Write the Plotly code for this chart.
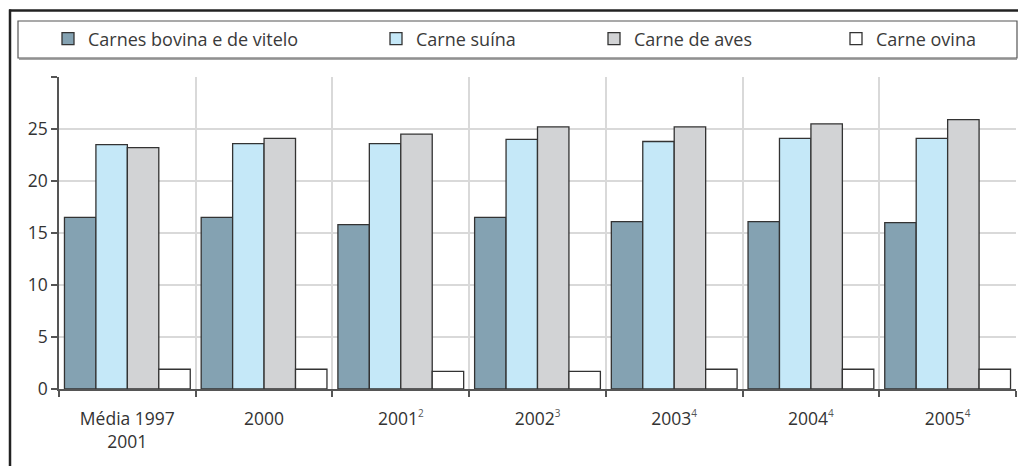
import plotly.graph_objects as go

def sup(s):
    return f"<sup><span style='font-size:10px;color:#555555'>{s}</span></sup>"

categories = ["Média 1997<br>2001", "2000", "2001" + sup("2"), "2002" + sup("3"),
              "2003" + sup("4"), "2004" + sup("4"), "2005" + sup("4")]
series_names = ["Carnes bovina e de vitelo", "Carne suína", "Carne de aves", "Carne ovina"]
bovina = [16.5, 16.5, 15.8, 16.5, 16.1, 16.1, 16.0]
suina = [23.5, 23.6, 23.6, 24.0, 23.8, 24.1, 24.1]
aves = [23.2, 24.1, 24.5, 25.2, 25.2, 25.5, 25.9]
ovina = [1.9, 1.9, 1.7, 1.7, 1.9, 1.9, 1.9]
y_ticks = [0, 5, 10, 15, 20, 25, 30]
y_ticktext = ["0", "5", "10", "15", "20", "25", ""]

colors = ["#84A2B2", "#C5E8F8", "#D2D3D5", "#FFFFFF"]
values = [bovina, suina, aves, ovina]

W, H = 1018, 466
ml, mr, mt, mb = 59, 2, 77, 77
pw, ph = W - ml - mr, H - mt - mb

def px_x(p):
    return (p - ml) / pw

def px_y(p):
    return (H - mb - p) / ph

legend_left_px = [48, 376, 594, 836]
font_family = "Open Sans, Noto Sans, DejaVu Sans, sans-serif"

fig = go.Figure()
for i, (name, vals, col) in enumerate(zip(series_names, values, colors)):
    lg = "legend" if i == 0 else f"legend{i+1}"
    fig.add_trace(go.Bar(
        x=categories, y=vals, name=name,
        marker=dict(color=col, line=dict(color="#333333", width=1.3)),
        legend=lg,
    ))

layout_legends = {}
for i, lp in enumerate(legend_left_px):
    key = "legend" if i == 0 else f"legend{i+1}"
    layout_legends[key] = dict(
        x=px_x(lp), y=px_y(39), xanchor="left", yanchor="middle",
        orientation="h", bgcolor="rgba(0,0,0,0)", borderwidth=0,
        font=dict(family=font_family, size=18, color="#3a3a3a"),
    )

shapes = [
    # legend box
    dict(type="rect", xref="paper", yref="paper",
         x0=px_x(18), x1=px_x(1017), y0=px_y(58), y1=px_y(21),
         line=dict(color="#555555", width=1.2), fillcolor="rgba(0,0,0,0)"),
    dict(type="line", xref="paper", yref="paper",
         x0=px_x(19), x1=px_x(1017), y0=px_y(59), y1=px_y(59),
         line=dict(color="#888888", width=1.5)),
    # outer frame top and left
    dict(type="line", xref="paper", yref="paper",
         x0=px_x(9), x1=px_x(1018), y0=px_y(10.5), y1=px_y(10.5),
         line=dict(color="#222222", width=2.5)),
    dict(type="line", xref="paper", yref="paper",
         x0=px_x(10), x1=px_x(10), y0=px_y(9.5), y1=px_y(466),
         line=dict(color="#222222", width=2.5)),
]

fig.update_layout(
    width=W, height=H,
    margin=dict(l=ml, r=mr, t=mt, b=mb),
    paper_bgcolor="white", plot_bgcolor="white",
    barmode="group", bargap=0.08, bargroupgap=0,
    font=dict(family=font_family, size=17, color="#333333"),
    shapes=shapes,
    showlegend=True,
    **layout_legends,
)
fig.update_xaxes(
    type="category", tickson="boundaries",
    showgrid=True, gridcolor="#D9D9D9", gridwidth=1.5,
    showline=True, linecolor="#555555", linewidth=1.5,
    ticks="outside", ticklen=6, tickcolor="#555555", tickwidth=1.5,
    ticklabelstandoff=13,
    tickfont=dict(family=font_family, size=17.5, color="#333333"),
)
fig.update_yaxes(
    range=[0, 30], tickvals=y_ticks, ticktext=y_ticktext,
    showgrid=True, gridcolor="#D9D9D9", gridwidth=1.5,
    showline=True, linecolor="#555555", linewidth=1.5,
    ticks="outside", ticklen=6, tickcolor="#555555", tickwidth=1.5,
    tickfont=dict(family=font_family, size=17.5, color="#333333"),
    zeroline=False,
)

fig.write_html(
    "out.html",
    config={"displayModeBar": False},
    post_script="document.body.style.margin='0';document.body.style.overflow='hidden';",
)
